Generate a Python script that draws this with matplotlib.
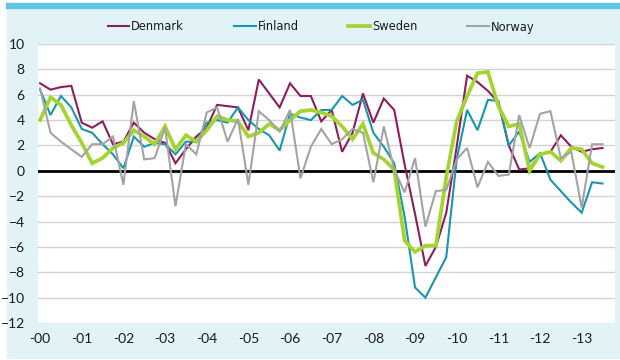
import matplotlib.pyplot as plt
from matplotlib.patches import Rectangle
import numpy as np

# Quarterly values, 2000Q1 .. 2013Q3
denmark = [6.9, 6.4, 6.6, 6.7, 3.8, 3.4, 3.9, 2.1, 2.3, 3.8, 3.0, 2.5, 2.2, 0.6,
           1.7, 2.7, 3.4, 5.2, 5.1, 5.0, 3.2, 7.2, 6.1, 5.0, 6.9, 5.9, 5.9, 3.9,
           4.8, 1.5, 3.0, 6.1, 3.8, 5.7, 4.8, 0.5, -3.4, -7.5, -6.0, -3.3, 1.9,
           7.5, 7.0, 6.3, 5.4, 2.0, 0.1, 0.2, 1.3, 1.5, 2.8, 1.9, 1.5, 1.7, 1.8]
finland = [6.4, 4.4, 5.9, 5.0, 3.3, 3.0, 2.1, 1.3, 0.2, 2.7, 1.9, 2.2, 2.1, 1.3,
           2.3, 2.3, 3.8, 4.0, 3.8, 5.0, 4.0, 3.3, 2.8, 1.6, 4.5, 4.2, 4.0, 4.8,
           4.8, 5.9, 5.2, 5.6, 3.0, 1.9, 0.6, -3.6, -9.2, -10.0, -8.4, -6.8, 0.9,
           4.8, 3.2, 5.6, 5.5, 2.0, 3.1, 0.7, 1.4, -0.7, -1.6, -2.5, -3.3, -0.9, -1.0]
sweden = [4.0, 5.8, 5.2, 3.6, 2.2, 0.6, 1.0, 1.8, 2.2, 3.2, 2.7, 2.1, 3.5, 1.7,
          2.8, 2.3, 3.2, 4.3, 4.0, 3.9, 2.7, 3.0, 3.7, 3.2, 4.0, 4.7, 4.8, 4.6,
          4.3, 3.5, 2.5, 3.7, 1.4, 0.9, 0.1, -5.5, -6.4, -5.9, -5.9, -0.5, 3.9,
          5.9, 7.7, 7.8, 5.1, 3.5, 3.7, 0.0, 1.3, 1.5, 0.8, 1.8, 1.7, 0.6, 0.3]
norway = [6.5, 3.0, 2.3, 1.7, 1.1, 2.1, 2.1, 2.7, -1.1, 5.5, 0.9, 1.0, 3.4, -2.8,
          2.1, 1.3, 4.6, 5.0, 2.3, 4.1, -1.1, 4.7, 4.0, 3.1, 4.8, -0.6, 1.9, 3.3,
          2.1, 2.5, 3.3, 3.0, -0.9, 3.5, 0.1, -1.7, 1.0, -4.4, -1.6, -1.5, 0.9,
          1.8, -1.3, 0.7, -0.4, -0.3, 4.4, 1.8, 4.5, 4.7, 1.0, 1.5, -2.9, 2.1, 2.1]

year_labels = ['-00', '-01', '-02', '-03', '-04', '-05', '-06',
               '-07', '-08', '-09', '-10', '-11', '-12', '-13']

series = [
    ('Denmark', denmark, '#8c1d5e', 1.5),
    ('Finland', finland, '#1896ad', 1.5),
    ('Sweden', sweden, '#a4d431', 2.7),
    ('Norway', norway, '#a3a3a3', 1.5),
]

W, H = 620, 360
fig = plt.figure(figsize=(W / 100, H / 100), dpi=100, facecolor='white')

# panel background and top band
fig.patches.append(Rectangle((7 / W, 2 / H), 613 / W, 350 / H,
                             transform=fig.transFigure, color='#e2f3f8', zorder=-2))
fig.patches.append(Rectangle((6 / W, 352 / H), 614 / W, 5 / H,
                             transform=fig.transFigure, color='#5fc6dd', zorder=-1))

ax = fig.add_axes([38 / W, 1 - 323 / H, (615 - 38) / W, (323 - 44) / H])
ax.set_facecolor('white')

x = np.arange(len(denmark))
for name, vals, color, lw in series:
    ax.plot(x, vals, color=color, lw=lw, label=name, solid_joinstyle='miter')

ax.axhline(0, color='black', lw=2.0, zorder=1.5)
ax.set_ylim(-12, 10)
ax.set_xlim(-0.2, 55.2)
ax.set_yticks(range(-12, 11, 2))
ax.set_xticks(np.arange(len(year_labels)) * 4)
ax.set_xticklabels(year_labels)
ax.grid(axis='y', color='#d4d4d4', lw=1.0)
ax.set_axisbelow(True)
for s in ax.spines.values():
    s.set_visible(False)
ax.tick_params(length=0, labelsize=10)
ax.tick_params(axis='y', pad=9.5)
ax.tick_params(axis='x', pad=7)
for lab in ax.get_xticklabels() + ax.get_yticklabels():
    lab.set_family(['Lato', 'DejaVu Sans'])
    lab.set_color('#1a1a1a')

leg = fig.legend(loc='center', bbox_to_anchor=(321 / W, 1 - 27 / H), ncol=4,
                 frameon=False, handlelength=1.7, handletextpad=0.15,
                 columnspacing=3.9,
                 prop={'family': 'DejaVu Sans', 'stretch': 'condensed', 'size': 9.2})
for t in leg.get_texts():
    t.set_color('#1a1a1a')

fig.savefig('out.png', dpi=100, facecolor='white')
